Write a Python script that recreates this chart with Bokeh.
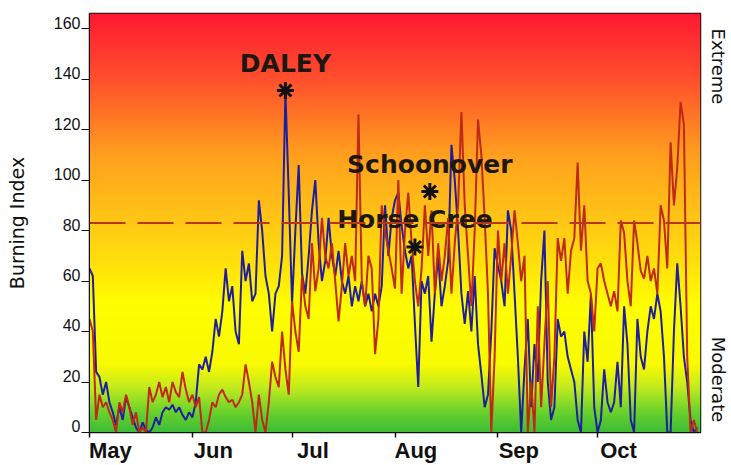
import numpy as np
import pandas as pd
from bokeh.plotting import figure
from bokeh.models import Range1d, FixedTicker, Span, LinearAxis
from bokeh.embed import file_html
from bokeh.resources import INLINE
from bokeh.core.properties import value

# ---------------- data ----------------
dates = pd.date_range("2000-05-01", "2000-10-31", freq="D")

blue_bi = [
    # May
    65, 62, 24, 22, 15, 20, 12, 8, 3, 10, 5, 14, 10, 6, 2, 0, 4, 1, 0, 2, 6, 3, 8, 10, 9, 11, 8, 10, 7, 5, 8,
    # Jun
    6, 12, 27, 25, 30, 24, 32, 45, 38, 48, 65, 52, 58, 40, 35, 72, 60, 67, 52, 55, 92, 80, 62, 55, 40, 55, 58, 70, 135, 95,
    # Jul
    51, 80, 106, 63, 55, 70, 88, 100, 75, 60, 68, 85, 70, 62, 72, 60, 55, 62, 50, 58, 52, 60, 50, 55, 48, 55, 50, 58, 90, 70, 85,
    # Aug
    92, 95, 82, 72, 65, 70, 43, 18, 60, 55, 62, 36, 55, 70, 50, 58, 68, 114, 100, 80, 55, 43, 56, 40, 62, 35, 23, 10, 15, 40, 73,
    # Sep
    66, 60, 50, 88, 80, 55, 30, 0, 25, 45, 10, 35, 20, 60, 80, 20, 5, 10, 45, 38, 40, 30, 25, 20, 5, 0, 40, 28, 55, 10,
    # Oct
    0, 5, 25, 12, 8, 12, 28, 10, 50, 35, 5, 0, 45, 30, 25, 40, 50, 45, 55, 48, 30, 0, 0, 40, 67, 50, 30, 20, 5, 0, 2,
]

red_bi = [
    # May
    45, 40, 5, 15, 10, 12, 8, 5, 0, 12, 8, 15, 10, 3, 8, 0, 2, 0, 18, 12, 15, 20, 14, 18, 12, 20, 16, 14, 24, 17, 12,
    # Jun
    15, 10, 14, 0, 0, 5, 12, 10, 15, 17, 14, 12, 13, 10, 12, 15, 27, 20, 12, 0, 15, 5, 0, 12, 28, 22, 18, 40, 25, 15,
    # Jul
    52, 40, 32, 62, 50, 45, 75, 56, 65, 85, 70, 65, 75, 60, 44, 58, 75, 62, 70, 60, 126, 60, 50, 70, 65, 31, 45, 90, 80, 72, 65,
    # Aug
    57, 100, 55, 80, 95, 75, 60, 50, 65, 90, 70, 88, 55, 75, 60, 70, 85, 55, 75, 90, 127, 90, 70, 50, 80, 124, 110, 85, 55, 0, 30,
    # Sep
    80, 60, 75, 55, 70, 88, 75, 60, 70, 0, 20, 0, 50, 10, 35, 60, 10, 30, 77, 68, 77, 55, 72, 77, 107, 72, 90, 60, 55, 40,
    # Oct
    65, 67, 60, 55, 50, 56, 48, 84, 79, 60, 50, 84, 75, 64, 61, 70, 60, 65, 55, 90, 84, 65, 115, 90, 105, 131, 122, 30, 0, 5, 0,
]

event_names = ["DALEY", "Schoonover", "Horse Cree"]
event_dates = [pd.Timestamp("2000-06-29 00:00"), pd.Timestamp("2000-08-11 12:00"),
               pd.Timestamp("2000-08-07 00:00")]
event_bi = [135.5, 95.5, 73.5]

threshold_bi = 83

month_starts = [pd.Timestamp("2000-05-01"), pd.Timestamp("2000-06-01"), pd.Timestamp("2000-07-01"),
                pd.Timestamp("2000-08-01"), pd.Timestamp("2000-09-01"), pd.Timestamp("2000-10-01")]
month_labels = ["May", "Jun", "Jul", "Aug", "Sep", "Oct"]
y_ticks = [0, 20, 40, 60, 80, 100, 120, 140, 160]
zone_labels = ["Extreme", "Moderate"]
zone_label_bi = [145, 21]

# ---------------- figure ----------------
x_start = pd.Timestamp("2000-05-01")
x_end = pd.Timestamp("2000-11-01")
y_max = 166

p = figure(width=731, height=465, x_axis_type="datetime",
           output_backend="svg", toolbar_location=None,
           x_range=Range1d(x_start, x_end), y_range=Range1d(0, y_max),
           min_border_left=89, min_border_right=26,
           min_border_top=13, min_border_bottom=33)
p.grid.visible = False
p.outline_line_color = "#111111"
p.outline_line_width = 1.5
p.background_fill_color = "white"
p.border_fill_color = "white"

# gradient background (green -> yellow -> orange -> red), one smooth image
stops_v = [0, 8, 18, 27, 50, 65, 80, 110, 140, 166]
stops_r = [60, 105, 195, 250, 255, 255, 255, 255, 255, 255]
stops_g = [188, 210, 236, 250, 255, 228, 205, 160, 80, 25]
stops_b = [55, 45, 30, 0, 0, 10, 20, 30, 45, 50]
rows = 420
vv = (np.arange(rows) + 0.5) * y_max / rows
img = np.empty((rows, 2), dtype=np.uint32)
view = img.view(dtype=np.uint8).reshape((rows, 2, 4))
for j in range(2):
    view[:, j, 0] = np.interp(vv, stops_v, stops_r).astype(np.uint8)
    view[:, j, 1] = np.interp(vv, stops_v, stops_g).astype(np.uint8)
    view[:, j, 2] = np.interp(vv, stops_v, stops_b).astype(np.uint8)
    view[:, j, 3] = 255
span_ms = (x_end - x_start).total_seconds() * 1000
p.image_rgba(image=[img], x=x_start, y=0, dw=span_ms, dh=y_max)

# series
p.line(dates, blue_bi, line_color="#1f1f9c", line_width=2)
p.line(dates, red_bi, line_color="#bf2a18", line_width=2)

# threshold
p.add_layout(Span(location=threshold_bi, dimension="width",
                  line_color="#b8361a", line_width=2, line_dash="36 12"))

# events
p.scatter(event_dates, event_bi, marker="asterisk", size=17,
          line_color="#111111", line_width=3)
p.text(event_dates, event_bi, text=event_names, y_offset=-27,
       text_align="center", text_baseline="middle",
       text_font=value("DejaVu Sans"), text_font_style="bold",
       text_font_size="25px", text_color="#1c1810")

# x axis: tick marks at month starts (minor), labels just to their right (major)
DAY_MS = 86400000
tick_ms = [int(t.timestamp() * 1000) for t in month_starts]
label_ms = [t + int(6.3 * DAY_MS) for t in tick_ms]
xa = p.xaxis[0]
xa.ticker = FixedTicker(ticks=label_ms, minor_ticks=tick_ms)
xa.major_label_overrides = dict(zip(label_ms, month_labels))
xa.major_label_text_font = "Liberation Sans"
xa.major_label_text_font_style = "bold"
xa.major_label_text_font_size = "22px"
xa.major_label_text_color = "#111111"
xa.major_tick_line_color = None
xa.major_tick_out = 5
xa.major_tick_in = 0
xa.minor_tick_out = 5
xa.minor_tick_in = 0
xa.minor_tick_line_color = "#111111"
xa.minor_tick_line_width = 1.5
xa.major_label_standoff = 0
xa.axis_line_color = "#111111"

# y axis: tick marks at values (minor), labels sitting just above them (major)
ylab_pos = [t + 2.4 for t in y_ticks]
ya = p.yaxis[0]
ya.ticker = FixedTicker(ticks=ylab_pos, minor_ticks=y_ticks)
ya.major_label_overrides = dict(zip(ylab_pos, [str(t) for t in y_ticks]))
ya.major_label_text_font = "Liberation Sans"
ya.major_label_text_font_size = "16px"
ya.major_label_text_color = "#111111"
ya.major_tick_line_color = None
ya.major_tick_out = 8
ya.major_tick_in = 0
ya.minor_tick_out = 8
ya.minor_tick_in = 0
ya.minor_tick_line_color = "#111111"
ya.minor_tick_line_width = 1.2
ya.major_label_standoff = 1
ya.axis_line_color = "#111111"
ya.axis_label = "Burning Index"
ya.axis_label_text_font = "DejaVu Sans"
ya.axis_label_text_font_style = "normal"
ya.axis_label_text_font_size = "19px"
ya.axis_label_text_color = "#111111"
ya.axis_label_standoff = 23

# right side zone labels
ra = LinearAxis(ticker=FixedTicker(ticks=zone_label_bi),
                major_label_overrides=dict(zip(zone_label_bi, zone_labels)),
                major_label_orientation="vertical",
                major_label_text_font="DejaVu Sans",
                major_label_text_font_size="18px",
                major_label_text_color="#111111",
                major_label_standoff=7,
                major_tick_line_color=None, major_tick_out=0, major_tick_in=0,
                minor_tick_line_color=None, axis_line_color=None)
p.add_layout(ra, "right")

open("out.html", "w").write(file_html(p, INLINE))
